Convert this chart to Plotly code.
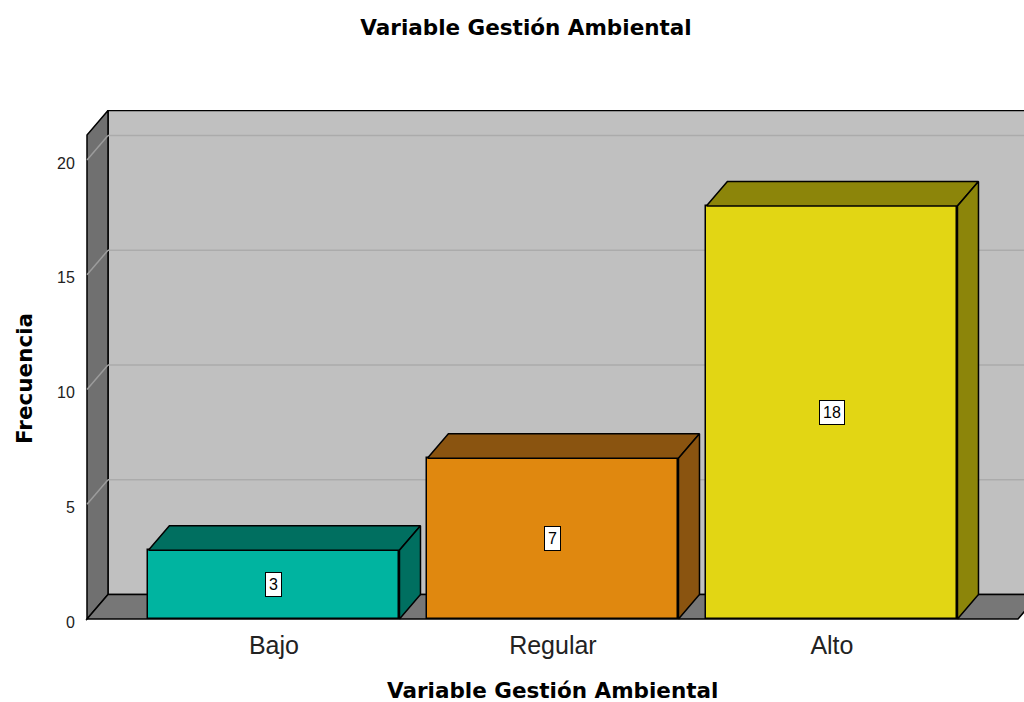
import plotly.graph_objects as go

# ---- data ----
categories = ["Bajo", "Regular", "Alto"]
frequencies = [3, 7, 18]
front_colors = ["#00B4A0", "#E0880F", "#E2D614"]
shade_colors = ["#006F60", "#8A5410", "#8C850A"]
y_ticks = [0, 5, 10, 15, 20]
title_text = "Variable Gestión Ambiental"
x_title = "Variable Gestión Ambiental"
y_title = "Frecuencia"

# ---- geometry ----
PX_X = 279.0          # pixels per category unit
PX_Y = 22.95          # pixels per frequency unit
DX = 21 / PX_X        # depth offset in x
DY = 24.5 / PX_Y      # depth offset in y
BAR_W = 0.9
XL, XR = -0.67, 2.667  # front left/right edge of the floor
YTOP = 21.09           # front top of walls

W, H = 1024, 702
PLOT_L, PLOT_T, PLOT_B = 85, 110, 622
x_range = [XL - 2 / PX_X, XL - 2 / PX_X + (W - PLOT_L) / PX_X]
y_range = [-3 / PX_Y, -3 / PX_Y + (PLOT_B - PLOT_T) / PX_Y]


def path(pts):
    return "M " + " L ".join(f"{x},{y}" for x, y in pts) + " Z"


shapes = []
# back wall
shapes.append(dict(type="path", xref="x", yref="y", layer="below",
                   path=path([(XL + DX, DY), (XR + DX + 1, DY), (XR + DX + 1, YTOP + DY), (XL + DX, YTOP + DY)]),
                   fillcolor="#C0C0C0", line=dict(color="black", width=1.5)))
# left wall
shapes.append(dict(type="path", xref="x", yref="y", layer="below",
                   path=path([(XL, 0), (XL + DX, DY), (XL + DX, YTOP + DY), (XL, YTOP)]),
                   fillcolor="#707070", line=dict(color="black", width=1.5)))
# floor
shapes.append(dict(type="path", xref="x", yref="y", layer="below",
                   path=path([(XL, 0), (XR, 0), (XR + DX, DY), (XL + DX, DY)]),
                   fillcolor="#777777", line=dict(color="black", width=1.5)))
# gridlines
for v in y_ticks[1:]:
    shapes.append(dict(type="line", xref="x", yref="y", layer="below",
                       x0=XL + DX, x1=XR + DX + 1, y0=v + DY, y1=v + DY,
                       line=dict(color="#ABABAB", width=1.5)))
    shapes.append(dict(type="line", xref="x", yref="y", layer="below",
                       x0=XL, x1=XL + DX, y0=v, y1=v + DY,
                       line=dict(color="#9C9C9C", width=1.5)))

fig = go.Figure()
xs = list(range(len(categories)))
fig.add_trace(go.Bar(
    x=xs, y=frequencies, width=BAR_W,
    marker=dict(color=front_colors, line=dict(color="black", width=1.5)),
    hoverinfo="skip", showlegend=False,
))

# top and side faces of the bars
for x, v, c in zip(xs, frequencies, shade_colors):
    l, r = x - BAR_W / 2, x + BAR_W / 2
    top = [(l, v), (r, v), (r + DX, v + DY), (l + DX, v + DY), (l, v)]
    side = [(r, 0), (r + DX, DY), (r + DX, v + DY), (r, v), (r, 0)]
    for poly in (top, side):
        fig.add_trace(go.Scatter(
            x=[p[0] for p in poly], y=[p[1] for p in poly],
            mode="lines", fill="toself", fillcolor=c,
            line=dict(color="black", width=1.5),
            hoverinfo="skip", showlegend=False,
        ))

annotations = []
for x, v in zip(xs, frequencies):
    annotations.append(dict(
        x=x, y=v / 2, xref="x", yref="y", text=str(v), showarrow=False,
        bgcolor="white", bordercolor="black", borderwidth=1, borderpad=3,
        font=dict(family="Liberation Sans, Arial", size=16, color="black"),
    ))

annotations.append(dict(
    text=f"<b>{x_title}</b>", xref="paper", yref="paper",
    x=(552 - PLOT_L) / (W - PLOT_L), y=(PLOT_B - 690) / (PLOT_B - PLOT_T),
    showarrow=False, xanchor="center", yanchor="middle",
    font=dict(family="DejaVu Sans", size=21.5, color="black"),
))
annotations.append(dict(
    text=f"<b>{y_title}</b>", xref="paper", yref="paper",
    x=(24 - PLOT_L) / (W - PLOT_L), y=(PLOT_B - 378) / (PLOT_B - PLOT_T),
    showarrow=False, xanchor="center", yanchor="middle", textangle=-90,
    font=dict(family="DejaVu Sans", size=21.5, color="black"),
))

fig.update_layout(
    width=W, height=H,
    margin=dict(l=PLOT_L, r=0, t=PLOT_T, b=H - PLOT_B, pad=0),
    paper_bgcolor="white", plot_bgcolor="white",
    title=dict(text=f"<b>{title_text}</b>", x=526 / W, y=1 - 27 / H,
               xref="container", yref="container", xanchor="center", yanchor="middle",
               font=dict(family="DejaVu Sans", size=21.5, color="black")),
    shapes=shapes, annotations=annotations,
    bargap=0,
)
fig.update_xaxes(
    range=x_range, tickvals=xs, ticktext=categories,
    showgrid=False, zeroline=False, showline=False,
    ticks="outside", ticklen=1, tickcolor="rgba(0,0,0,0)",
    tickfont=dict(family="Liberation Sans, Arial", size=25, color="#222222"),
)
fig.update_yaxes(
    range=y_range, tickvals=y_ticks,
    showgrid=False, zeroline=False, showline=False,
    ticks="outside", ticklen=6, tickcolor="rgba(0,0,0,0)",
    ticklabelshift=3,
    tickfont=dict(family="Liberation Sans, Arial", size=16, color="#222222"),
)

fig.write_html(
    "out.html",
    config={"displayModeBar": False},
    post_script="document.body.style.margin='0';document.body.style.overflow='hidden';",
)
